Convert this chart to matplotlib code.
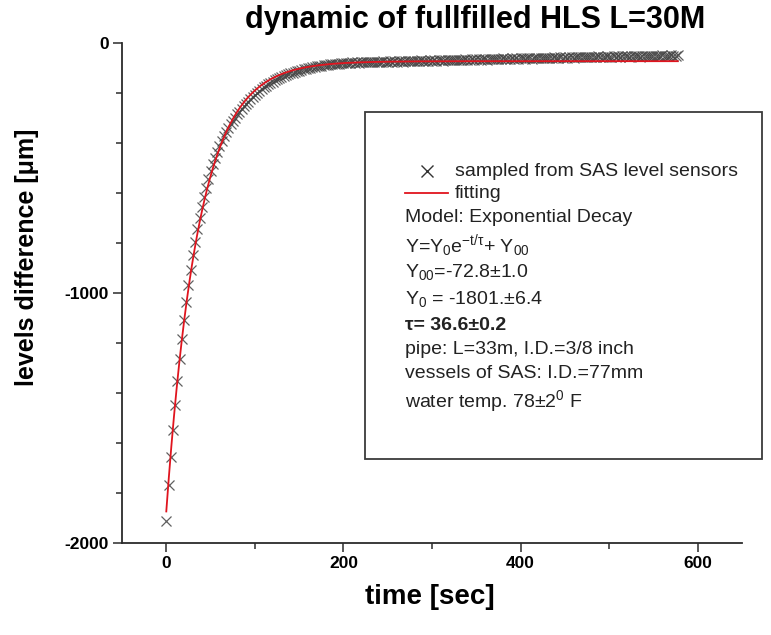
import numpy as np
import matplotlib
matplotlib.use("Agg")
import matplotlib.pyplot as plt
from matplotlib.patches import Rectangle
from matplotlib.ticker import MultipleLocator

plt.rcParams["font.family"] = ["Liberation Sans", "DejaVu Sans"]
plt.rcParams["mathtext.fontset"] = "custom"
plt.rcParams["mathtext.rm"] = "Liberation Sans"
plt.rcParams["mathtext.it"] = "Liberation Sans:italic"
plt.rcParams["mathtext.bf"] = "Liberation Sans:bold"
plt.rcParams["axes.unicode_minus"] = False

# ---------------- data ----------------
SAMPLE_STEP = 2.5   # sec between sensor readings

levels = [
    -1912, -1767, -1654, -1546, -1447, -1353, -1265, -1183, -1108, -1037,
    -970, -908, -850, -796, -745, -699, -656, -616, -579, -546,
    -514, -486, -460, -435, -412, -391, -372, -355, -339, -324,
    -311, -299, -286, -275, -264, -254, -244, -235, -225, -216,
    -208, -200, -192, -185, -178, -172, -166, -160, -155, -150,
    -145, -141, -136, -133, -129, -126, -122, -119, -116, -114,
    -111, -109, -106, -104, -102, -100, -98, -96, -94, -93,
    -91, -90, -89, -87, -86, -86, -84, -83, -83, -81,
    -80,
    -80, -79, -81, -78, -79, -77, -79, -78, -76, -78,
    -77, -75, -78, -76, -77, -75, -76, -74, -77, -75,
    -74, -76, -73, -75, -74, -72, -75, -73, -74, -72,
    -73, -71, -74, -72, -70, -73, -71, -72, -70, -71,
    -69, -72, -70, -68, -71, -69, -70, -68, -69, -67,
    -70, -68, -67, -69, -66, -68, -67, -65, -68, -66,
    -65, -67, -66, -64, -67, -65, -64, -66, -63, -65,
    -64, -62, -65, -63, -64, -62, -63, -61, -64, -62,
    -61, -63, -62, -60, -63, -61, -60, -62, -59, -61,
    -60, -62, -59, -61, -58, -60, -61, -58, -59, -57,
    -60, -58, -57, -59, -56, -58, -57, -55, -58, -56,
    -57, -55, -58, -56, -54, -57, -55, -56, -54, -56,
    -55, -53, -56, -54, -55, -53, -54, -52, -55, -53,
    -54, -52, -53, -55, -52, -54, -51, -53, -52, -54,
    -51, -53, -52, -50, -53, -51, -52, -50, -51, -53, -50,
]

# fitted exponential decay parameters (from the annotation)
Y0 = -1801.0
Y00 = -72.8
TAU = 36.6

times = np.arange(len(levels)) * SAMPLE_STEP
t_fit = np.linspace(0, times[-1], 400)
y_fit = Y0 * np.exp(-t_fit / TAU) + Y00

# ---------------- figure ----------------
W, H = 771, 635
fig = plt.figure(figsize=(W / 100, H / 100), dpi=100)
ax = fig.add_axes([122 / W, 1 - 543 / H, (742 - 122) / W, (543 - 43) / H])

ax.plot(times, levels, linestyle="none", marker="x", markersize=6.5,
        markeredgewidth=0.9, color="#444444", alpha=0.85)
ax.plot(t_fit, y_fit, color="#e0141e", linewidth=1.3)

ax.set_xlim(-50, 650)
ax.set_ylim(-2000, 0)
ax.xaxis.set_major_locator(MultipleLocator(200))
ax.xaxis.set_minor_locator(MultipleLocator(100))
ax.yaxis.set_major_locator(MultipleLocator(1000))
ax.yaxis.set_minor_locator(MultipleLocator(200))

for s in ("top", "right"):
    ax.spines[s].set_visible(False)
for s in ("left", "bottom"):
    ax.spines[s].set_linewidth(1.3)
    ax.spines[s].set_color("#2b2b2b")

ax.tick_params(which="major", direction="out", length=6.5, width=1.1,
               color="#2b2b2b", labelsize=12.5, pad=3)
ax.tick_params(which="minor", direction="out", length=4, width=1.1,
               color="#2b2b2b")
for lab in ax.get_xticklabels() + ax.get_yticklabels():
    lab.set_fontweight("bold")

# axis labels / title placed like the original
fig.text(475 / W, 1 - 20 / H, "dynamic of fullfilled HLS L=30M",
         ha="center", va="center", fontsize=22, fontweight="bold")
fig.text(430 / W, 1 - 597 / H, "time [sec]", ha="center", va="center",
         fontsize=20, fontweight="bold")
fig.text(27 / W, 1 - 257 / H, "levels difference [\u03bcm]", ha="center",
         va="center", rotation=90, fontsize=18, fontweight="bold")

# legend / annotation box
box = Rectangle((365 / W, 1 - 459 / H), (762 - 365) / W, (459 - 112) / H,
                transform=fig.transFigure, fill=False, edgecolor="#3a3a3a",
                linewidth=1.3)
fig.add_artist(box)

def fy(py):
    return 1 - py / H

fig.lines.append(plt.Line2D([427 / W], [fy(171)], marker="x", markersize=9,
                            markeredgewidth=1.0, color="#333333",
                            transform=fig.transFigure))
fig.lines.append(plt.Line2D([405 / W, 448 / W], [fy(193), fy(193)],
                            color="#e0141e", linewidth=1.3,
                            transform=fig.transFigure))

fs = 14
tx = 405 / W
fig.text(455 / W, fy(171), "sampled from SAS level sensors", fontsize=fs,
         va="center", color="#222222")
fig.text(455 / W, fy(193), "fitting", fontsize=fs, va="center", color="#222222")
lines = [
    (218, "Model: Exponential Decay", "normal"),
    (246, r"Y=Y$\mathregular{_0}$e$\mathregular{^{-t/\tau}}$+ Y$\mathregular{_{00}}$", "normal"),
    (272, r"Y$\mathregular{_{00}}$=-72.8\u00b11.0".replace("\\u00b1", "\u00b1"), "normal"),
    (299, "Y$\\mathregular{_0}$ = -1801.\u00b16.4", "normal"),
    (326, "\u03c4= 36.6\u00b10.2", "bold"),
    (349, "pipe: L=33m, I.D.=3/8 inch", "normal"),
    (373, "vessels of SAS: I.D.=77mm", "normal"),
    (401, "water temp. 78\u00b12$\\mathregular{^0}$ F", "normal"),
]
for py, s, w in lines:
    fig.text(tx, fy(py), s, fontsize=fs, va="center", fontweight=w,
             color="#222222")

fig.savefig("out.png", dpi=100)
